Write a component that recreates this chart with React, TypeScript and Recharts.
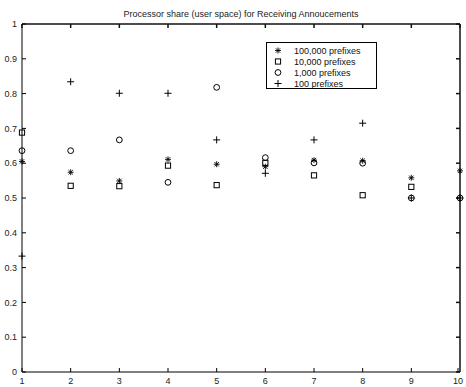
import { Legend, ReferenceDot, ReferenceLine, Scatter, ScatterChart, XAxis, YAxis } from "recharts";

const xValues = [1, 2, 3, 4, 5, 6, 7, 8, 9, 10];
const share100k = [0.605, 0.574, 0.549, 0.611, 0.597, 0.59, 0.609, 0.607, 0.558, 0.578];
const share10k = [0.688, 0.535, 0.534, 0.593, 0.537, 0.601, 0.565, 0.508, 0.532];
const share1k = [0.636, 0.636, 0.667, 0.545, 0.818, 0.616, 0.601, 0.6, 0.5, 0.5];
const share100 = [0.333, 0.834, 0.801, 0.801, 0.667, 0.571, 0.667, 0.715, 0.5, 0.5];
const seriesNames = ["100,000 prefixes", "10,000 prefixes", "1,000 prefixes", "100 prefixes"];
const xTicks = [1, 2, 3, 4, 5, 6, 7, 8, 9, 10];
const yTicks = [0, 0.1, 0.2, 0.3, 0.4, 0.5, 0.6, 0.7, 0.8, 0.9, 1];
const title = "Processor share (user space) for Receiving Annoucements";

const FONT = "'Liberation Sans', Arial, Helvetica, sans-serif";
const INK = "#000";
const EDGE = "#111";

const toPoints = (vals: number[]) => vals.map((y, i) => ({ x: xValues[i], y }));

type MarkerProps = { cx?: number; cy?: number };

function Asterisk({ cx = 0, cy = 0 }: MarkerProps) {
  const r = 3;
  const d = 2.2;
  return (
    <g stroke={INK} strokeWidth={0.9}>
      <line x1={cx} y1={cy - r} x2={cx} y2={cy + r} />
      <line x1={cx - r} y1={cy} x2={cx + r} y2={cy} />
      <line x1={cx - d} y1={cy - d} x2={cx + d} y2={cy + d} />
      <line x1={cx - d} y1={cy + d} x2={cx + d} y2={cy - d} />
    </g>
  );
}

function Square({ cx = 0, cy = 0 }: MarkerProps) {
  return <rect x={cx - 2.6} y={cy - 2.6} width={5.2} height={5.2} fill="none" stroke={INK} strokeWidth={1} />;
}

function Ring({ cx = 0, cy = 0 }: MarkerProps) {
  return <circle cx={cx} cy={cy} r={2.9} fill="none" stroke={INK} strokeWidth={1} />;
}

function Plus({ cx = 0, cy = 0 }: MarkerProps) {
  const r = 3.5;
  return (
    <g stroke={INK} strokeWidth={1}>
      <line x1={cx} y1={cy - r} x2={cx} y2={cy + r} />
      <line x1={cx - r} y1={cy} x2={cx + r} y2={cy} />
    </g>
  );
}

const markers = [Asterisk, Square, Ring, Plus];

// matlab style: labels outside, ticks pointing into the box
function LeftTick({ x, y, payload }: any) {
  return (
    <g>
      <line x1={x + 5} y1={y} x2={x + 9} y2={y} stroke={INK} />
      <text x={x} y={y} dy="0.355em" textAnchor="end" fontSize={9} fontFamily={FONT} fill="#222">
        {payload.value}
      </text>
    </g>
  );
}

function BottomTick({ x, y, payload }: any) {
  return (
    <g>
      <line x1={x} y1={y - 6} x2={x} y2={y - 10} stroke={INK} />
      <text x={x} y={y} dy="0.71em" textAnchor="middle" fontSize={9} fontFamily={FONT} fill="#222">
        {payload.value}
      </text>
    </g>
  );
}

// inward ticks on the top and right edges of the box
function TopEdgeTick(p: any) {
  return <line x1={p.cx} y1={p.cy} x2={p.cx} y2={p.cy + 4} stroke={EDGE} strokeWidth={1.5} />;
}

function RightEdgeTick(p: any) {
  return <line x1={p.cx} y1={p.cy} x2={p.cx - 4} y2={p.cy} stroke={EDGE} strokeWidth={1.5} />;
}

function LegendBox() {
  return (
    <div
      style={{
        border: "1px solid #000",
        boxSizing: "border-box",
        width: 111,
        height: 47,
        padding: "2px 0 0 0",
        fontFamily: FONT,
        fontSize: 9,
        color: "#111",
      }}
    >
      {seriesNames.map((name, i) => {
        const M = markers[i];
        return (
          <div key={name} style={{ display: "flex", alignItems: "center", height: 11 }}>
            <svg width={26} height={11}>
              <M cx={11} cy={5.5} />
            </svg>
            <span style={{ marginLeft: 1 }}>{name}</span>
          </div>
        );
      })}
    </div>
  );
}

export default function App() {
  const series = [share100k, share10k, share1k, share100];
  return (
    <div style={{ position: "absolute", left: 0, top: 0, width: 466, height: 387 }}>
      <ScatterChart width={466} height={387} margin={{ top: 24, right: 6, bottom: 0, left: 0 }}>
        <XAxis
          type="number"
          dataKey="x"
          domain={[1, 10]}
          ticks={xTicks}
          height={15}
          tickSize={0}
          tickMargin={6}
          tickLine={false}
          axisLine={{ stroke: INK }}
          tick={<BottomTick />}
        />
        <YAxis
          type="number"
          dataKey="y"
          domain={[0, 1]}
          ticks={yTicks}
          width={22}
          tickSize={0}
          tickMargin={5}
          tickLine={false}
          axisLine={{ stroke: INK }}
          tick={<LeftTick />}
        />
        <ReferenceLine
          y={1}
          stroke={EDGE}
          strokeWidth={1.5}
          ifOverflow="visible"
          label={{ value: title, position: "top", offset: 7, fontSize: 9, fontFamily: FONT, fill: "#222" }}
        />
        <ReferenceLine x={10} stroke={EDGE} strokeWidth={1.5} ifOverflow="visible" />
        {xTicks.map((t) => (
          <ReferenceDot key={"t" + t} x={t} y={1} r={3} shape={TopEdgeTick} ifOverflow="visible" />
        ))}
        {yTicks.map((t) => (
          <ReferenceDot key={"r" + t} x={10} y={t} r={3} shape={RightEdgeTick} ifOverflow="visible" />
        ))}
        <Legend
          verticalAlign="middle"
          content={() => <LegendBox />}
          wrapperStyle={{ position: "absolute", left: 266, top: 42, width: 111, height: 47 }}
        />
        {series.map((vals, i) => {
          const M = markers[i];
          return (
            <Scatter
              key={seriesNames[i]}
              name={seriesNames[i]}
              data={toPoints(vals)}
              shape={(p: any) => <M cx={p.cx} cy={p.cy} />}
              isAnimationActive={false}
            />
          );
        })}
      </ScatterChart>
    </div>
  );
}
